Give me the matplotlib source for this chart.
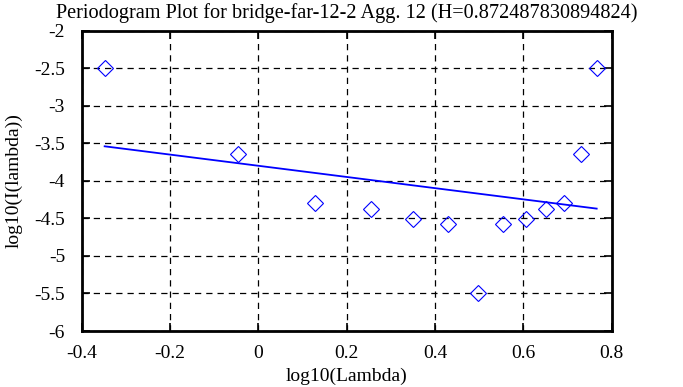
import matplotlib
matplotlib.use("Agg")
import matplotlib.pyplot as plt

log_lambda = [-0.348, -0.047, 0.129, 0.254, 0.351, 0.430, 0.497,
              0.555, 0.606, 0.652, 0.693, 0.731, 0.766]
log_I = [-2.50, -3.64, -4.30, -4.38, -4.51, -4.57, -5.50,
         -4.57, -4.51, -4.38, -4.30, -3.64, -2.50]
fit_x = [-0.348, 0.766]
fit_y = [-3.54, -4.37]

title = "Periodogram Plot for bridge-far-12-2 Agg. 12 (H=0.872487830894824)"
xticks = [-0.4, -0.2, 0, 0.2, 0.4, 0.6, 0.8]
xticklabels = ["-0.4", "-0.2", "0", "0.2", "0.4", "0.6", "0.8"]
yticks = [-6, -5.5, -5, -4.5, -4, -3.5, -3, -2.5, -2]
yticklabels = ["-6", "-5.5", "-5", "-4.5", "-4", "-3.5", "-3", "-2.5", "-2"]

plt.rcParams['font.family'] = ['Liberation Serif', 'DejaVu Serif']
fs = 14

fig = plt.figure(figsize=(6.83, 3.87), dpi=100)
ax = fig.add_axes([0.1196, 0.1447, 0.8956 - 0.1196, 0.9207 - 0.1447])

ax.plot(fit_x, fit_y, color='#0000ff', linewidth=1.3, zorder=3)
ax.plot(log_lambda, log_I, linestyle='none', marker='D', markersize=8,
        markerfacecolor='none', markeredgecolor='#0000ff', markeredgewidth=0.8, zorder=4)

ax.set_xlim(-0.4, 0.8)
ax.set_ylim(-6, -2)
ax.set_xticks(xticks)
ax.set_xticklabels(xticklabels, fontsize=fs)
ax.set_yticks(yticks)
ax.set_yticklabels(yticklabels, fontsize=fs)
ax.grid(True, color='black', linestyle=(0, (5, 4)), linewidth=0.9)
ax.tick_params(direction='in', top=True, right=True, length=6, width=1.2)
ax.tick_params(axis='x', pad=10)
ax.tick_params(axis='y', pad=12)
for s in ax.spines.values():
    s.set_linewidth(2)
ax.set_title(title, fontsize=14.6, pad=9)
ax.set_xlabel("log10(Lambda)", fontsize=fs, labelpad=4)
ax.set_ylabel("log10(I(lambda))", fontsize=fs, labelpad=8)

fig.savefig("out.png", dpi=100)
